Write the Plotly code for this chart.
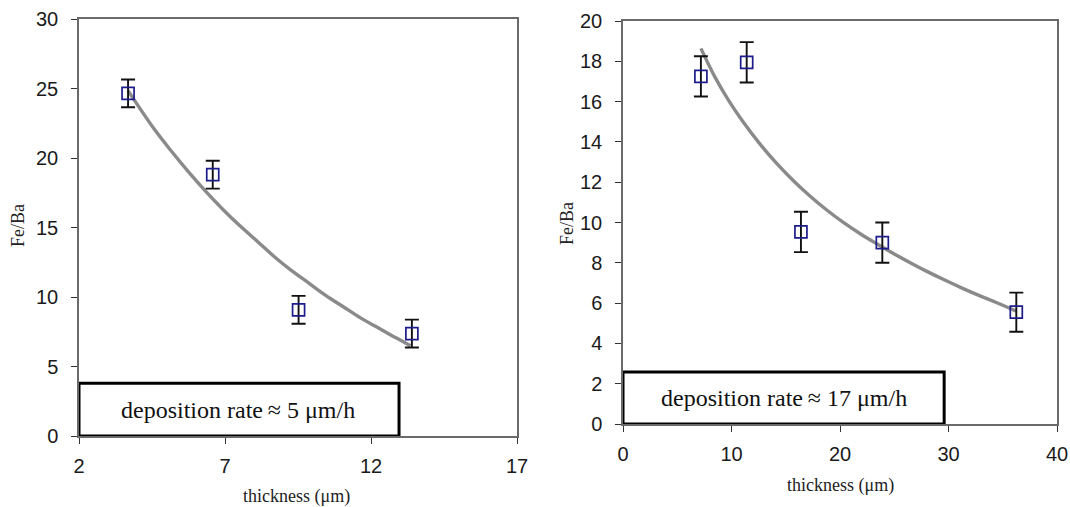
import plotly.graph_objects as go

# ---- Left panel (deposition rate ~5 um/h) ----
left_x = [3.68, 6.58, 9.52, 13.4]
left_y = [24.65, 18.8, 9.08, 7.37]
left_err = [1.0, 1.0, 1.0, 1.0]
left_fit_x = [3.68, 4.57, 5.16, 5.75, 6.34, 6.93, 7.52, 8.11, 8.69, 9.28,
              9.87, 10.46, 11.05, 11.64, 12.23, 12.82, 13.35]
left_fit_y = [24.85, 22.1, 20.5, 19.0, 17.6, 16.3, 15.1, 14.0, 12.9, 11.9,
              11.0, 10.1, 9.3, 8.5, 7.8, 7.1, 6.5]
left_xticks = [2, 7, 12, 17]
left_yticks = [0, 5, 10, 15, 20, 25, 30]
left_label = "deposition rate\u2009\u2248 5 \u03bcm/h"

# ---- Right panel (deposition rate ~17 um/h) ----
right_x = [7.18, 11.4, 16.4, 23.9, 36.25]
right_y = [17.25, 17.95, 9.53, 9.0, 5.55]
right_err = [1.0, 1.0, 1.0, 1.0, 0.97]
right_fit_x = [7.18, 8.49, 9.73, 10.98, 12.54, 14.1, 15.66, 17.2, 18.78, 20.34,
               21.9, 23.46, 25.0, 26.6, 28.1, 29.7, 31.3, 32.8, 34.4, 36.25]
right_fit_y = [18.64, 17.2, 16.06, 15.06, 13.95, 12.97, 12.1, 11.33, 10.62, 9.99,
               9.43, 8.92, 8.44, 7.97, 7.55, 7.13, 6.73, 6.38, 6.03, 5.6]
right_xticks = [0, 10, 20, 30, 40]
right_yticks = [0, 2, 4, 6, 8, 10, 12, 14, 16, 18, 20]
right_label = "deposition rate\u2009\u2248 17 \u03bcm/h"

x_title = "thickness (\u03bcm)"
y_title = "Fe/Ba"

W, H = 1070, 507
fig = go.Figure()

curve_style = dict(color="#8a8a8a", width=3.4, shape="spline", smoothing=1.0)
marker_style = dict(symbol="square-open", size=12, color="#1c1c8a",
                    line=dict(width=1.7, color="#1c1c8a"))
err_style = lambda e: dict(type="data", array=e, visible=True, color="#111111",
                           thickness=1.9, width=7)

fig.add_trace(go.Scatter(x=left_fit_x, y=left_fit_y, mode="lines",
                         line=curve_style, xaxis="x", yaxis="y", showlegend=False))
fig.add_trace(go.Scatter(x=left_x, y=left_y, mode="markers", marker=marker_style,
                         error_y=err_style(left_err), xaxis="x", yaxis="y",
                         showlegend=False))
fig.add_trace(go.Scatter(x=right_fit_x, y=right_fit_y, mode="lines",
                         line=curve_style, xaxis="x2", yaxis="y2", showlegend=False))
fig.add_trace(go.Scatter(x=right_x, y=right_y, mode="markers", marker=marker_style,
                         error_y=err_style(right_err), xaxis="x2", yaxis="y2",
                         showlegend=False))

tick_font = dict(family="Liberation Sans, Arial", size=20, color="#1a1a1a")
axis_common = dict(showgrid=False, zeroline=False, showline=True, linecolor="#6a6a6a",
                   linewidth=1.5, mirror=True, ticks="outside", ticklen=6,
                   tickcolor="#333333", tickwidth=1.3, tickfont=tick_font,
                   automargin=False)

# pixel geometry in the window -> paper domains
Lx0, Lx1, Ly0, Ly1 = 79, 517, 19, 436
Rx0, Rx1, Ry0, Ry1 = 623, 1057, 21, 424

fig.update_layout(
    width=W, height=H, margin=dict(l=0, r=0, t=0, b=0),
    paper_bgcolor="white", plot_bgcolor="white",
    xaxis=dict(domain=[Lx0 / W, Lx1 / W], range=[2, 17], tickvals=left_xticks,
               anchor="y", ticklabelstandoff=5, **axis_common),
    yaxis=dict(domain=[1 - Ly1 / H, 1 - Ly0 / H], range=[0, 30], tickvals=left_yticks,
               anchor="x", ticklabelstandoff=9, **axis_common),
    xaxis2=dict(domain=[Rx0 / W, Rx1 / W], range=[0, 40], tickvals=right_xticks,
                anchor="y2", ticklabelstandoff=5, **axis_common),
    yaxis2=dict(domain=[1 - Ry1 / H, 1 - Ry0 / H], range=[0, 20], tickvals=right_yticks,
                anchor="x2", ticklabelstandoff=9, **axis_common),
)

# annotation boxes
fig.add_shape(type="rect", xref="x", yref="y", x0=2, x1=12.96, y0=0, y1=3.8,
              line=dict(color="black", width=3), fillcolor="white", layer="above")
fig.add_shape(type="rect", xref="x2", yref="y2", x0=0, x1=29.6, y0=0, y1=2.58,
              line=dict(color="black", width=3), fillcolor="white", layer="above")

serif = "Liberation Serif, Times New Roman, serif"
fig.add_annotation(x=7.45, y=1.9, xref="x", yref="y", text=left_label, showarrow=False,
                   xanchor="center", yanchor="middle",
                   font=dict(family=serif, size=24, color="#111111"))
fig.add_annotation(x=14.8, y=1.29, xref="x2", yref="y2", text=right_label, showarrow=False,
                   xanchor="center", yanchor="middle",
                   font=dict(family=serif, size=24, color="#111111"))

# axis titles
title_font = dict(family=serif, size=18, color="#222222")
for tx, ty in [(296, 496), (840, 485)]:
    fig.add_annotation(x=tx / W, y=1 - ty / H, xref="paper", yref="paper",
                       text=x_title, showarrow=False, xanchor="center", yanchor="middle",
                       font=title_font)
for tx, ty in [(18, 226), (567, 224)]:
    fig.add_annotation(x=tx / W, y=1 - ty / H, xref="paper", yref="paper",
                       text=y_title, showarrow=False, textangle=-90,
                       xanchor="center", yanchor="middle",
                       font=dict(family=serif, size=18, color="#222222"))

# remove the default page margin so the figure fills the window exactly
fig.write_html("out.html", config={"displayModeBar": False},
               post_script="document.body.style.margin='0';document.body.style.overflow='hidden';")
